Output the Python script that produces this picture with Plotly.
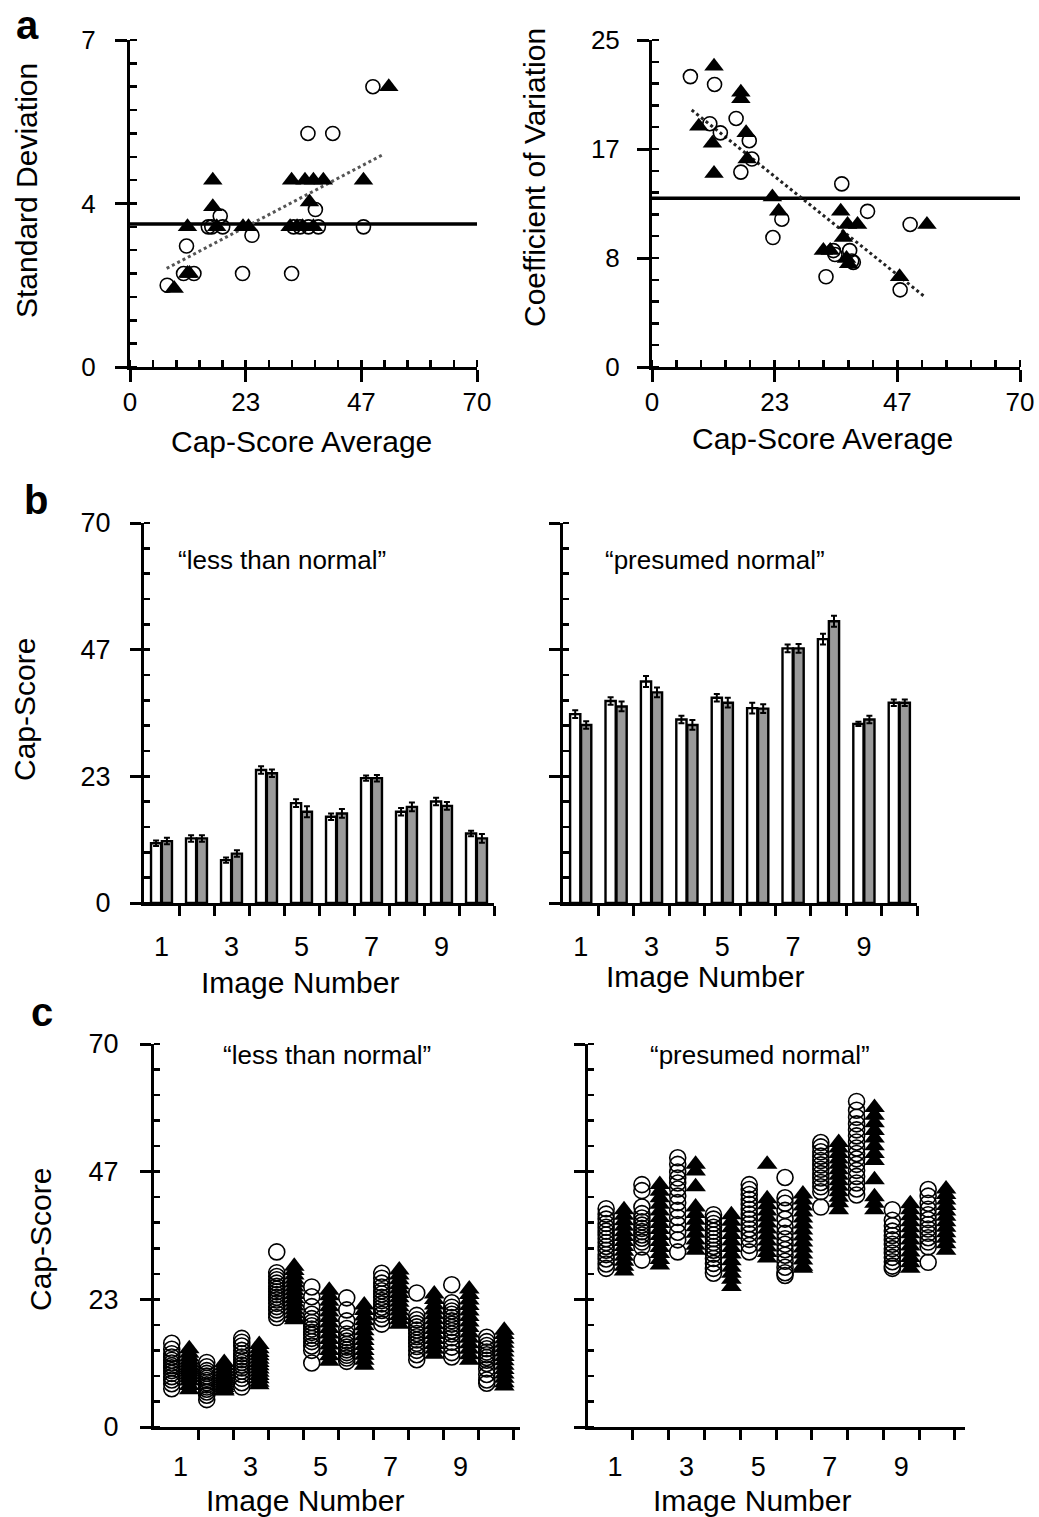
import plotly.graph_objects as go

W, H = 1039, 1517
def fx(p): return p / W
def fy(p): return 1 - p / H

# ---------------- Panel a data ----------------
sd_circle_x = [49.0, 35.9, 40.9, 37.4, 18.2, 15.8, 16.5, 18.7, 24.6, 11.4,
               10.8, 12.9, 22.7, 32.6, 7.5, 33.0, 34.3, 36.0, 38.0, 47.1]
sd_circle_y = [6.0, 5.0, 5.0, 3.37, 3.23, 3.0, 3.0, 3.0, 2.82, 2.59,
               2.0, 2.0, 2.0, 2.0, 1.75, 3.0, 3.0, 3.0, 3.0, 3.0]
sd_tri_x = [52.2, 32.6, 35.3, 37.0, 39.0, 47.1, 16.7, 16.7, 36.2, 11.6,
            17.5, 22.8, 23.9, 32.3, 33.7, 37.0, 11.6, 8.9, 34.8, 12.0]
sd_tri_y = [6.0, 4.0, 4.0, 4.0, 4.0, 4.0, 4.0, 3.43, 3.53, 3.0,
            3.0, 3.0, 3.0, 3.0, 3.0, 3.0, 2.0, 1.68, 3.0, 2.0]
sd_mean_line = 3.06
sd_trend_x = [7.4, 51.1]
sd_trend_y = [2.11, 4.55]

cv_circle_x = [7.3, 11.9, 11.0, 13.0, 16.0, 18.5, 19.0, 16.9, 36.1, 41.0,
               24.7, 23.0, 49.1, 37.6, 38.3, 33.1, 47.2, 34.5, 38.0, 34.8]
cv_circle_y = [22.2, 21.6, 18.6, 17.9, 19.0, 17.3, 15.9, 14.9, 14.0, 11.9,
               11.3, 9.9, 10.9, 8.9, 8.0, 6.9, 5.9, 8.9, 8.1, 8.6]
cv_tri_x = [11.8, 16.9, 16.9, 8.9, 17.9, 11.5, 18.1, 11.8, 22.9, 24.1,
            35.9, 37.2, 39.1, 36.4, 32.6, 33.9, 37.4, 47.1, 52.3, 37.0]
cv_tri_y = [23.0, 21.0, 20.5, 18.4, 17.9, 17.1, 15.9, 14.8, 13.0, 11.9,
            11.9, 10.9, 10.9, 9.9, 8.9, 8.9, 7.9, 6.9, 10.9, 8.3]
cv_mean_line = 12.9
cv_trend_x = [7.55, 51.7]
cv_trend_y = [19.65, 5.43]

# ---------------- Panel b data ----------------
images = [1, 2, 3, 4, 5, 6, 7, 8, 9, 10]
b_less_white = [11.0, 11.9, 7.9, 24.5, 18.4, 15.9, 23.0, 16.8, 18.7, 12.8]
b_less_white_err = [0.5, 0.6, 0.5, 0.7, 0.7, 0.6, 0.5, 0.7, 0.7, 0.5]
b_less_grey = [11.4, 11.9, 9.1, 23.9, 16.8, 16.5, 23.0, 17.7, 17.9, 11.9]
b_less_grey_err = [0.6, 0.6, 0.6, 0.7, 1.0, 0.8, 0.6, 0.8, 0.7, 0.8]
b_norm_white = [34.8, 37.2, 40.8, 33.8, 37.8, 35.9, 46.9, 48.6, 33.0, 36.9]
b_norm_white_err = [0.7, 0.7, 1.0, 0.7, 0.7, 1.0, 0.7, 1.0, 0.4, 0.6]
b_norm_grey = [32.8, 36.2, 38.8, 32.8, 36.9, 35.8, 46.9, 51.9, 33.8, 36.9]
b_norm_grey_err = [0.7, 0.9, 0.9, 0.9, 0.9, 0.8, 0.8, 1.0, 0.7, 0.6]

# ---------------- Panel c data ----------------
c_less_circles = [
    [15.3, 14.2, 13.4, 12.8, 12.2, 11.7, 11.2, 10.8, 10.3, 9.8, 9.2, 8.6, 7.9, 7.0],
    [11.8, 11.0, 10.3, 9.8, 9.3, 8.9, 8.5, 8.1, 7.7, 7.3, 6.9, 6.4, 5.8, 5.0],
    [16.2, 15.5, 14.8, 14.0, 13.4, 12.8, 12.3, 11.8, 11.3, 10.8, 10.2, 9.6, 8.9, 8.1, 7.3],
    [32.0, 28.2, 27.5, 26.9, 26.3, 25.7, 25.2, 24.7, 24.2, 23.7, 23.2, 22.6, 22.0, 21.4, 20.7, 20.0],
    [25.6, 23.8, 22.0, 20.6, 19.8, 19.1, 18.5, 17.9, 17.3, 16.8, 16.2, 15.6, 14.8, 14.0, 11.7],
    [23.6, 21.4, 19.4, 18.0, 17.0, 16.3, 15.7, 15.1, 14.6, 14.1, 13.6, 13.1, 12.6, 12.0],
    [28.1, 27.2, 26.3, 25.6, 24.9, 24.3, 23.7, 23.1, 22.5, 21.9, 21.3, 20.6, 19.8, 18.8],
    [24.5, 20.4, 19.6, 18.9, 18.3, 17.7, 17.1, 16.5, 15.9, 15.3, 14.7, 14.0, 13.2, 12.3],
    [26.0, 22.7, 21.9, 21.2, 20.6, 20.0, 19.4, 18.8, 18.2, 17.6, 17.0, 16.3, 15.5, 14.6, 13.6, 12.8],
    [16.4, 15.6, 14.9, 14.3, 13.7, 13.2, 12.7, 12.2, 11.6, 10.6, 9.6, 8.6, 8.0],
]
c_less_triangles = [
    [14.3, 13.5, 12.8, 12.2, 11.7, 11.2, 10.8, 10.4, 10.0, 9.5, 9.0, 8.4, 7.6, 6.8],
    [11.8, 11.2, 10.6, 10.1, 9.6, 9.2, 8.8, 8.4, 8.0, 7.6, 7.2, 6.8, 6.6],
    [15.1, 14.3, 13.6, 13.0, 12.4, 11.8, 11.2, 10.6, 10.0, 9.4, 8.8, 8.2, 7.7],
    [29.4, 28.6, 27.8, 27.0, 26.3, 25.6, 24.9, 24.2, 23.5, 22.8, 22.1, 21.4, 20.7, 20.0, 19.6],
    [25.0, 24.0, 23.0, 22.0, 21.0, 20.0, 19.0, 18.0, 17.0, 16.0, 15.0, 14.0, 13.0, 12.0],
    [22.3, 21.3, 20.3, 19.4, 18.5, 17.6, 16.7, 15.8, 14.9, 14.0, 13.1, 12.2, 11.3],
    [28.7, 27.8, 26.9, 26.0, 25.2, 24.4, 23.6, 22.8, 22.0, 21.2, 20.4, 19.6, 18.8],
    [24.3, 23.3, 22.3, 21.4, 20.5, 19.6, 18.7, 17.8, 16.9, 16.0, 15.1, 14.2, 13.3],
    [25.2, 24.2, 23.2, 22.2, 21.2, 20.2, 19.2, 18.2, 17.2, 16.2, 15.2, 14.2, 13.2, 12.2],
    [17.7, 16.9, 16.1, 15.3, 14.5, 13.7, 12.9, 12.1, 11.3, 10.5, 9.7, 8.9, 8.1, 7.5],
]
c_norm_circles = [
    [39.9, 38.9, 38.0, 37.2, 36.5, 35.8, 35.1, 34.4, 33.7, 33.0, 32.3, 31.5, 30.7, 29.8, 29.0],
    [44.3, 43.2, 40.2, 39.0, 38.2, 37.5, 36.9, 36.3, 35.7, 35.1, 34.5, 33.8, 32.9, 30.5],
    [49.2, 48.0, 46.6, 45.5, 44.6, 43.5, 42.2, 41.0, 39.6, 38.3, 37.0, 35.6, 34.2, 32.0],
    [38.8, 38.0, 37.2, 36.5, 35.8, 35.1, 34.4, 33.7, 33.0, 32.3, 31.6, 30.8, 29.9, 29.0, 28.1],
    [44.3, 43.4, 42.5, 41.6, 40.7, 39.8, 38.9, 38.0, 37.1, 36.2, 35.3, 34.3, 33.2, 32.0],
    [45.6, 41.9, 40.9, 39.6, 38.0, 36.6, 35.4, 34.4, 33.4, 32.4, 31.4, 30.3, 29.2, 28.2, 27.7],
    [52.0, 51.2, 50.3, 49.5, 48.7, 47.9, 47.1, 46.3, 45.5, 44.7, 43.9, 43.0, 40.2],
    [59.5, 57.9, 56.6, 55.4, 54.3, 53.2, 52.1, 51.0, 50.0, 49.0, 48.0, 46.9, 45.8, 44.6, 43.5, 42.4],
    [39.7, 37.8, 36.8, 35.8, 35.0, 34.2, 33.4, 32.6, 31.8, 31.0, 30.2, 29.4, 29.0],
    [43.4, 42.2, 40.9, 39.8, 38.8, 37.9, 37.0, 36.2, 35.4, 34.6, 33.8, 32.9, 30.1],
]
c_norm_triangles = [
    [39.7, 38.7, 37.7, 36.7, 35.7, 34.8, 33.9, 33.0, 32.1, 31.2, 30.3, 29.4, 28.5],
    [44.3, 43.1, 41.9, 40.7, 39.5, 38.3, 37.2, 36.1, 35.0, 33.9, 32.8, 31.7, 30.6, 29.6],
    [48.0, 46.8, 43.9, 40.2, 39.0, 37.8, 36.6, 35.4, 34.2, 33.2, 32.3],
    [38.8, 37.6, 36.4, 35.2, 34.0, 32.8, 31.6, 30.4, 29.2, 28.1, 27.0, 25.7],
    [48.0, 41.7, 40.6, 39.5, 38.4, 37.3, 36.2, 35.1, 34.0, 32.9, 31.9, 30.9],
    [42.6, 41.5, 40.4, 39.3, 38.2, 37.1, 36.0, 34.9, 33.8, 32.7, 31.6, 30.5, 29.4, 29.0],
    [52.0, 51.0, 50.0, 49.0, 48.0, 47.0, 46.0, 45.0, 44.0, 43.0, 42.0, 41.0, 39.7],
    [58.4, 57.0, 55.6, 54.2, 52.8, 51.4, 50.0, 48.7, 45.2, 42.1, 40.9, 39.7],
    [40.8, 39.7, 38.6, 37.5, 36.4, 35.3, 34.2, 33.1, 32.0, 31.0, 30.0, 29.0],
    [43.5, 42.5, 41.5, 40.5, 39.5, 38.5, 37.5, 36.5, 35.5, 34.5, 33.5, 32.3],
]

# tick labels
a_x_ticktext = ['0', '23', '47', '70']
sd_y_ticktext = ['0', '4', '7']
cv_y_ticktext = ['0', '8', '17', '25']
cap_y_ticktext = ['0', '23', '47', '70']
img_ticktext = ['1', '3', '5', '7', '9']

FONT = 'Liberation Sans, Arial, sans-serif'
BLACK = 'black'

fig = go.Figure()

# ---- panel a ----
def scat(x, y, xa, ya, symbol, size, lw=1.6):
    return go.Scatter(x=x, y=y, xaxis=xa, yaxis=ya, mode='markers', showlegend=False,
                      marker=dict(symbol=symbol, size=size, color=BLACK,
                                  line=dict(color=BLACK, width=lw)), cliponaxis=False)

fig.add_trace(go.Scatter(x=[0, 70], y=[sd_mean_line, sd_mean_line], xaxis='x', yaxis='y',
                         mode='lines', line=dict(color=BLACK, width=3.5), showlegend=False))
fig.add_trace(go.Scatter(x=sd_trend_x, y=sd_trend_y, xaxis='x', yaxis='y', mode='lines',
                         line=dict(color='#555555', width=3, dash='dot'), showlegend=False))
fig.add_trace(scat(sd_circle_x, sd_circle_y, 'x', 'y', 'circle-open', 14))
fig.add_trace(scat(sd_tri_x, sd_tri_y, 'x', 'y', 'triangle-up', 17, 0))

fig.add_trace(go.Scatter(x=[0, 70], y=[cv_mean_line, cv_mean_line], xaxis='x2', yaxis='y2',
                         mode='lines', line=dict(color=BLACK, width=3.5), showlegend=False))
fig.add_trace(go.Scatter(x=cv_trend_x, y=cv_trend_y, xaxis='x2', yaxis='y2', mode='lines',
                         line=dict(color='#222222', width=3, dash='dot'), showlegend=False))
fig.add_trace(scat(cv_circle_x, cv_circle_y, 'x2', 'y2', 'circle-open', 14))
fig.add_trace(scat(cv_tri_x, cv_tri_y, 'x2', 'y2', 'triangle-up', 17, 0))

# ---- panel b ----
def bar(y, err, color, xa, ya):
    return go.Bar(x=images, y=y, xaxis=xa, yaxis=ya, showlegend=False,
                  marker=dict(color=color, line=dict(color=BLACK, width=2.4)),
                  error_y=dict(type='data', array=err, color=BLACK, thickness=2, width=3))

fig.add_trace(bar(b_less_white, b_less_white_err, 'white', 'x3', 'y3'))
fig.add_trace(bar(b_less_grey, b_less_grey_err, '#9a9a9a', 'x3', 'y3'))
fig.add_trace(bar(b_norm_white, b_norm_white_err, 'white', 'x4', 'y4'))
fig.add_trace(bar(b_norm_grey, b_norm_grey_err, '#9a9a9a', 'x4', 'y4'))

# ---- panel c ----
def column_points(groups, offset):
    xs, ys = [], []
    for img, vals in zip(images, groups):
        xs += [img + offset] * len(vals)
        ys += vals
    return xs, ys

for circ, tri, xa, ya in [(c_less_circles, c_less_triangles, 'x5', 'y5'),
                          (c_norm_circles, c_norm_triangles, 'x6', 'y6')]:
    cx, cy = column_points(circ, -0.25)
    tx, ty = column_points(tri, 0.25)
    fig.add_trace(scat(cx, cy, xa, ya, 'circle-open', 16, 1.6))
    fig.add_trace(scat(tx, ty, xa, ya, 'triangle-up', 18, 0))

# ---------------- axes ----------------
def base_axis(domain, rng, anchor, tickvals, ticktext, ticks, ticklen, minor=None,
              show_labels=True, standoff=8, fontsize=27):
    d = dict(domain=domain, range=rng, anchor=anchor, tickmode='array', tickvals=tickvals,
             ticktext=ticktext, ticks=ticks, ticklen=ticklen, tickwidth=3, tickcolor=BLACK,
             showline=True, linewidth=3, linecolor=BLACK, showgrid=False, zeroline=False,
             showticklabels=show_labels, ticklabelstandoff=standoff,
             tickfont=dict(family=FONT, size=fontsize, color=BLACK), fixedrange=True)
    if minor:
        d['minor'] = minor
    return d

def minor_lin(tick0, dtick, ticks='inside', ln=7):
    return dict(tickmode='linear', tick0=tick0, dtick=dtick, ticks=ticks, ticklen=ln,
                tickwidth=2.5, tickcolor=BLACK, showgrid=False)

def minor_arr(vals, ticks='outside', ln=10):
    return dict(tickmode='array', tickvals=vals, ticks=ticks, ticklen=ln,
                tickwidth=3, tickcolor=BLACK, showgrid=False)

def overlay(base, anchor, rng, tickvals, ln=10, width=3):
    return dict(overlaying=base, anchor=anchor, range=rng, tickmode='array', tickvals=tickvals,
                ticks='inside', ticklen=ln, tickwidth=width, tickcolor=BLACK,
                showticklabels=False, showline=False, showgrid=False, zeroline=False,
                fixedrange=True)

a_xvals = [0, 70 / 3, 140 / 3, 70]
cap_vals = [0, 70 / 3, 140 / 3, 70]
boundaries = [1.5, 2.5, 3.5, 4.5, 5.5, 6.5, 7.5, 8.5, 9.5, 10.5]
label_vals = [1, 3, 5, 7, 9]

layout_axes = {}
# a left
layout_axes['xaxis'] = base_axis([fx(130), fx(477)], [0, 70], 'y', a_xvals, a_x_ticktext,
                                 'outside', 12, minor_lin(0, 70 / 15), standoff=-2, fontsize=26)
layout_axes['yaxis'] = base_axis([fy(367), fy(40)], [0, 7], 'x', [0, 3.5, 7], sd_y_ticktext,
                                 'outside', 12, minor_lin(0, 0.5), standoff=14, fontsize=26)
# a right
layout_axes['xaxis2'] = base_axis([fx(652), fx(1020)], [0, 70], 'y2', a_xvals, a_x_ticktext,
                                  'outside', 12, minor_lin(0, 70 / 15), standoff=-2, fontsize=26)
layout_axes['yaxis2'] = base_axis([fy(367), fy(40)], [0, 25], 'x2', [0, 25 / 3, 50 / 3, 25],
                                  cv_y_ticktext, 'outside', 12, minor_lin(0, 25 / 15),
                                  standoff=12, fontsize=26)
# b left / right
layout_axes['xaxis3'] = base_axis([fx(144), fx(494)], [0.5, 10.5], 'y3', label_vals, img_ticktext,
                                  '', 0, minor_arr(boundaries), standoff=18)
layout_axes['yaxis3'] = base_axis([fy(903), fy(523)], [0, 70], 'x3', cap_vals, cap_y_ticktext,
                                  'outside', 11, minor_lin(0, 70 / 15, ln=6), standoff=14)
layout_axes['xaxis4'] = base_axis([fx(563), fx(917)], [0.5, 10.5], 'y4', label_vals, img_ticktext,
                                  '', 0, minor_arr(boundaries), standoff=18)
layout_axes['yaxis4'] = base_axis([fy(903), fy(523)], [0, 70], 'x4', cap_vals, cap_y_ticktext,
                                  'outside', 11, minor_lin(0, 70 / 15, ln=6), show_labels=False)
# c left / right
layout_axes['xaxis5'] = base_axis([fx(154), fx(520)], [0.243, 10.7], 'y5', label_vals, img_ticktext,
                                  '', 0, minor_arr(boundaries), standoff=14)
layout_axes['yaxis5'] = base_axis([fy(1427), fy(1044)], [0, 70], 'x5', cap_vals, cap_y_ticktext,
                                  'outside', 11, minor_lin(0, 70 / 15, ln=6), standoff=16)
layout_axes['xaxis6'] = base_axis([fx(588), fx(965)], [0.243, 10.78], 'y6', label_vals, img_ticktext,
                                  '', 0, minor_arr(boundaries), standoff=14)
layout_axes['yaxis6'] = base_axis([fy(1427), fy(1044)], [0, 70], 'x6', cap_vals, cap_y_ticktext,
                                  'outside', 11, minor_lin(0, 70 / 15, ln=6), show_labels=False)

# overlay axes giving the crossing tick marks
layout_axes['xaxis7'] = overlay('x', 'y', [0, 70], a_xvals)
layout_axes['xaxis8'] = overlay('x2', 'y2', [0, 70], a_xvals)
layout_axes['xaxis9'] = overlay('x3', 'y3', [0.5, 10.5], boundaries)
layout_axes['xaxis10'] = overlay('x4', 'y4', [0.5, 10.5], boundaries)
layout_axes['xaxis11'] = overlay('x5', 'y5', [0.243, 10.7], boundaries)
layout_axes['xaxis12'] = overlay('x6', 'y6', [0.243, 10.78], boundaries)

fig.update_layout(**layout_axes)

# ---------------- text ----------------
ann = []
def text(t, x, y, size, angle=0, bold=False):
    ann.append(dict(text=('<b>%s</b>' % t) if bold else t, x=fx(x), y=fy(y), xref='paper',
                    yref='paper', showarrow=False, textangle=angle, xanchor='center',
                    yanchor='middle', font=dict(family=FONT, size=size, color=BLACK)))

text('a', 27, 25, 40, bold=True)
text('b', 36, 500, 40, bold=True)
text('c', 42, 1012, 40, bold=True)
text('Standard Deviation', 26, 191, 30, angle=-90)
text('Coefficient of Variation', 535, 178, 30, angle=-90)
text('Cap-Score Average', 301, 442, 30)
text('Cap-Score Average', 822, 438, 30)
text('Cap-Score', 24, 710, 30, angle=-90)
text('Cap-Score', 40, 1240, 30, angle=-90)
text('Image Number', 300, 982, 30)
text('Image Number', 705, 976, 30)
text('Image Number', 305, 1500, 30)
text('Image Number', 752, 1500, 30)
text('\u201cless than normal\u201d', 282, 560, 26)
text('\u201cpresumed normal\u201d', 715, 560, 26)
text('\u201cless than normal\u201d', 327, 1055, 26)
text('\u201cpresumed normal\u201d', 760, 1055, 26)

fig.update_layout(width=W, height=H, margin=dict(l=0, r=0, t=0, b=0),
                  paper_bgcolor='white', plot_bgcolor='white', template='none',
                  barmode='group', bargap=0.38, bargroupgap=0.07,
                  annotations=ann, showlegend=False,
                  font=dict(family=FONT, color=BLACK))

fig.write_html('out.html', config={'displayModeBar': False, 'staticPlot': True},
               post_script="document.body.style.margin='0';document.body.style.overflow='hidden';")
